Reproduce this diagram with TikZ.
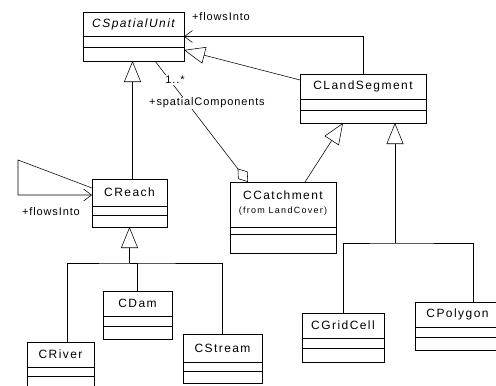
\documentclass[tikz,border=0pt]{standalone}
\usepackage{fontspec}
\setmainfont{Liberation Sans}
\newfontfamily\clsfont[LetterSpace=12]{Liberation Sans}
\newfontfamily\lblfont[LetterSpace=8]{Liberation Sans}
\newfontfamily\smlfont[LetterSpace=14]{Liberation Sans}
\usetikzlibrary{arrows.meta}
\tikzset{
  ln/.style={line width=0.55pt},
  cbox/.style={draw, line width=0.55pt, inner sep=0pt, outer sep=0pt},
  cname/.style={font=\clsfont\fontsize{12}{14}\selectfont, inner sep=0pt},
  sname/.style={font=\smlfont\fontsize{9}{11}\selectfont, inner sep=0pt},
  lbl/.style={font=\lblfont\fontsize{11}{13}\selectfont, inner sep=1pt},
  gen/.style={ln, -{Triangle[open,length=21pt,width=17pt]}},
  nav/.style={ln, -{Straight Barb[length=8pt,width=12pt]}},
  agg/.style={ln, -{Diamond[open,length=17pt,width=12pt]}}
}
\newcommand\umlclass[7]{%
  \node[cbox, minimum width={(#4-#2)*1pt}, minimum height={(#5-#3)*1pt}] (#1) at ({(#2+#4)/2},{(#3+#5)/2}) {};
  \draw[ln] (#2,#6) -- (#4,#6);
  \draw[ln] (#2,#7) -- (#4,#7);}
\begin{document}
\begin{tikzpicture}[x=1pt,y=-1pt]
\clip (0,0) rectangle (496,386);
\fill[white] (0,0) rectangle (496,386);
% classes
\umlclass{su}{83}{12}{184}{61}{36}{47}
\node[cname] (sut) at (133.5,24) {\itshape CSpatialUnit};
\umlclass{ls}{300}{74}{426}{123}{99}{110}
\node[cname] (lst) at (363,86.5) {CLandSegment};
\umlclass{cr}{92}{179}{167}{227}{206}{215}
\node[cname] (crt) at (129.5,192) {CReach};
\umlclass{cc}{230}{182}{336}{253}{227}{234}
\node[cname] (cct) at (283,195) {CCatchment};
\node[sname] (ccf) at (283,211) {(from LandCover)};
\umlclass{gc}{302}{313}{384}{362}{338}{348}
\node[cname] (gct) at (343,325.5) {CGridCell};
\umlclass{pg}{415}{302}{500}{350}{327}{337}
\node[cname] (pgt) at (457.5,314.5) {CPolygon};
\umlclass{cd}{103}{291}{172}{339}{316}{326}
\node[cname] (cdt) at (137.5,303.5) {CDam};
\umlclass{cv}{27}{342}{94}{400}{367}{376}
\node[cname] (cvt) at (60.5,354.5) {CRiver};
\umlclass{cs}{183}{334}{262}{383}{362}{371}
\node[cname] (cst) at (222.5,348) {CStream};
% associations
\draw[nav] (ls.north) |- (su.east);
\node[lbl] (fl1) at (221,17) {+flowsInto};
\draw[gen] ([yshift=-6pt]ls.north west) -- ([yshift=11pt]su.south east);
\draw[gen] ([xshift=3pt]cr.north) -- ([xshift=3pt]cr.north |- su.south);
\draw[nav] ([yshift=-9pt]cr.north west) -- ++(-74,-28) |- ([yshift=-16pt]cr.north west);
\node[lbl] (fl2) at (51,212) {+flowsInto};
\draw[agg] ([xshift=21.5pt]su.south) -- ([xshift=-35pt]cc.north);
\node[lbl, fill=white] (mult) at (175,80) {1..*};
\node[lbl, fill=white] (spc) at (207,103) {+spatialComponents};
\draw[gen] ([xshift=22pt]cc.north) -- ([xshift=-20pt]ls.south);
% LandSegment subclasses
\path ([xshift=32pt]ls.south) ++(0,120) coordinate (j1);
\draw[ln] (gc.north) |- (j1) -| ([xshift=15.5pt]pg.north);
\draw[gen] (j1) -- ([xshift=32pt]ls.south);
% CReach subclasses
\path (cr.south) ++(0,36) coordinate (j2);
\draw[ln] ([xshift=6.5pt]cv.north) |- (j2) -| (cs.north);
\draw[ln] (cd.north) |- (j2);
\draw[gen] (j2) -- (cr.south);
\end{tikzpicture}
\end{document}
